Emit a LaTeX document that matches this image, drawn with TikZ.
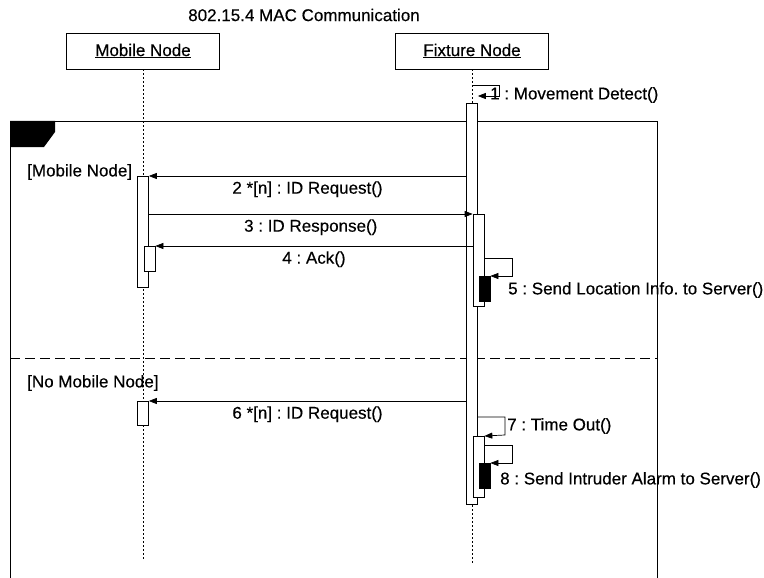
\documentclass[tikz,border=0pt]{standalone}
\usepackage{fontspec}
\setmainfont{Liberation Sans}[FakeBold=0.4]
\usetikzlibrary{arrows.meta, positioning}
\frenchspacing

\begin{document}
\begin{tikzpicture}[
    x=1pt, y=-1pt,
    font=\fontsize{17}{20}\selectfont,
    obj/.style={draw, line width=0.6pt, minimum width=153, minimum height=36, inner sep=0},
    life/.style={line width=0.7pt, dash pattern=on 2pt off 2pt},
    bar/.style={draw, fill=white, line width=0.7pt, minimum width=11, inner sep=0, anchor=north},
    busy/.style={bar, fill=black},
    msg/.style={-{Triangle[length=8pt, width=6pt]}, line width=0.7pt},
    lbl/.style={inner sep=0, anchor=west},
    msglbl/.style={midway, below=5pt, inner sep=0}
]
\useasboundingbox (0,0) rectangle (764,578);

% Title
\node (title) at (304,15) {802.15.4 MAC Communication};

% Objects and lifelines
\node[obj] (mobile) at (143,51) {\underline{Mobile Node}};
\node[obj] (fixture) at (472,51) {\underline{Fixture Node}};
\coordinate (mobileEnd) at (143,560);
\coordinate (fixtureEnd) at (472,565);
\draw[life] (mobile) -- (mobileEnd);
\draw[life] (fixture) -- (fixtureEnd);

% Alt frame
\draw[line width=0.8pt] (10,578) -- (10,121) -- (657,121) -- (657,578);
\fill (10,121) -- (55,121) -- (55,132) -- (44,147) -- (10,147) -- cycle;
\draw[line width=0.7pt, dash pattern=on 10pt off 5pt] (10,358) -- (657,358);
\node[lbl] (guardA) at (27,172) {[Mobile Node]};
\node[lbl] (guardB) at (27,383) {[No Mobile Node]};

% Activations
\node[bar, minimum height=401] (f0) at (472,103) {};
\node[bar, minimum height=92] (f1) at (478.5,214) {};
\node[busy, minimum height=25] (b1) at (484.5,276) {};
\node[bar, minimum height=61] (f2) at (478.5,436) {};
\node[busy, minimum height=25] (b2) at (484.5,463) {};
\node[bar, minimum height=111] (m0) at (143,176) {};
\node[bar, minimum height=25] (m1) at (149.5,246) {};
\node[bar, minimum height=24] (m2) at (143,401) {};

% Messages
\draw[msg] (472,85) -- (499,85) -- (499,96) -- (f0.east |- 0,96);
\node[lbl] (lab1) at (490,95) {1 : Movement Detect()};

\draw[msg] (f0.west |- m0.north) -- (m0.north east)
    node[msglbl] (lab2) {2 *[n] : ID Request()};
\draw[msg] (m0.east |- f1.north) -- (f1.north west)
    node[msglbl] (lab3) {3 : ID Response()};
\draw[msg] (f1.west |- m1.north) -- (m1.north east)
    node[msglbl] (lab4) {4 : Ack()};

\draw[msg] (f1.east |- 0,258) -- (512,258) -- (512,276) -- (b1.north east);
\node[lbl] (lab5) at (508,290) {5 : Send Location Info. to Server()};

\draw[msg] (f0.west |- m2.north) -- (m2.north east)
    node[msglbl] (lab6) {6 *[n] : ID Request()};

\draw[msg] (f0.east |- 0,417) -- (505,417) -- (505,435) -- (f2.north east);
\node[lbl] (lab7) at (507,426) {7 : Time Out()};

\draw[msg] (f2.east |- 0,445) -- (512,445) -- (512,463) -- (b2.north east);
\node[lbl] (lab8) at (500,480) {8 : Send Intruder Alarm to Server()};

\end{tikzpicture}
\end{document}
